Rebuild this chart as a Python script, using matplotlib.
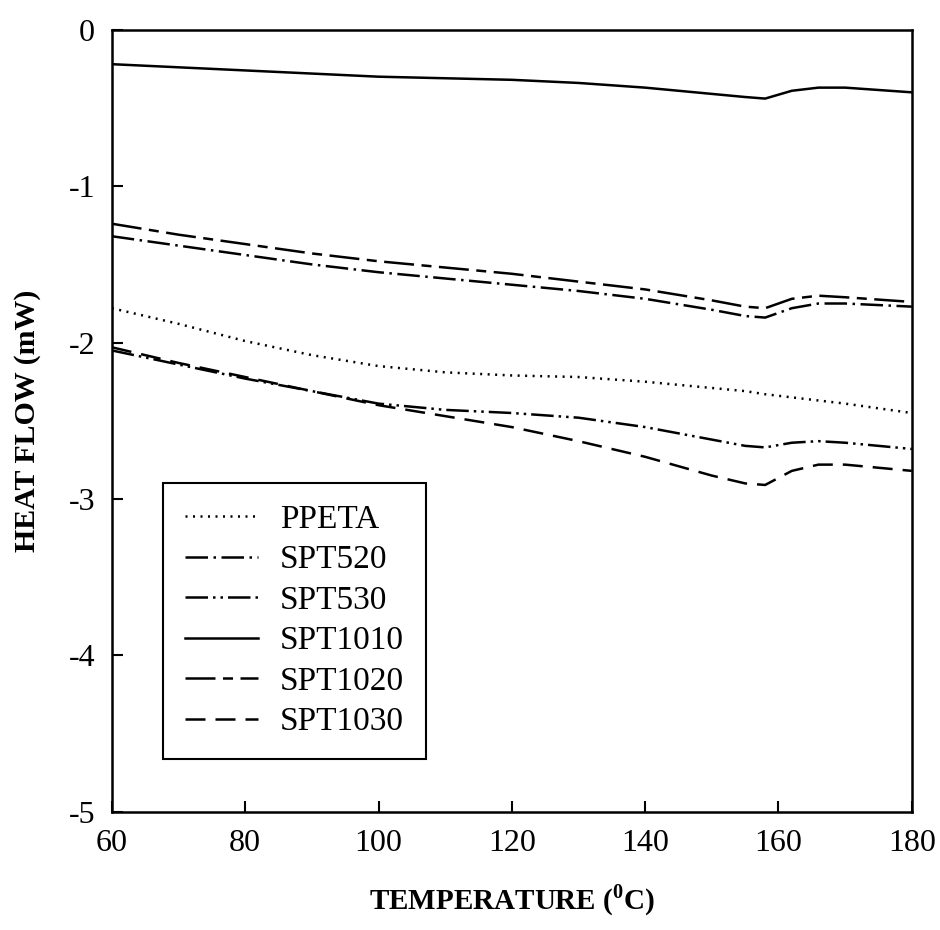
import matplotlib
matplotlib.use("Agg")
import matplotlib.pyplot as plt
import numpy as np

plt.rcParams['font.family'] = ['Liberation Serif', 'DejaVu Serif']
plt.rcParams['mathtext.fontset'] = 'custom'
plt.rcParams['mathtext.rm'] = 'Liberation Serif:bold'
plt.rcParams['axes.unicode_minus'] = False

# temperatures (C)
temp = [60, 70, 80, 90, 100, 110, 120, 130, 140, 150, 155, 158, 162, 166, 170, 180]

ppeta   = [-1.78, -1.88, -1.99, -2.08, -2.15, -2.19, -2.21, -2.22, -2.25, -2.29, -2.31, -2.33, -2.35, -2.37, -2.39, -2.45]
spt520  = [-1.32, -1.38, -1.44, -1.50, -1.55, -1.59, -1.63, -1.67, -1.72, -1.79, -1.83, -1.84, -1.78, -1.75, -1.75, -1.77]
spt530  = [-2.05, -2.14, -2.23, -2.31, -2.39, -2.43, -2.45, -2.48, -2.54, -2.62, -2.66, -2.67, -2.64, -2.63, -2.64, -2.68]
spt1010 = [-0.22, -0.24, -0.26, -0.28, -0.30, -0.31, -0.32, -0.34, -0.37, -0.41, -0.43, -0.44, -0.39, -0.37, -0.37, -0.40]
spt1020 = [-1.24, -1.31, -1.37, -1.43, -1.48, -1.52, -1.56, -1.61, -1.66, -1.73, -1.77, -1.78, -1.72, -1.70, -1.71, -1.74]
spt1030 = [-2.03, -2.13, -2.22, -2.31, -2.40, -2.47, -2.54, -2.63, -2.73, -2.85, -2.90, -2.91, -2.82, -2.78, -2.78, -2.82]

names = ['PPETA', 'SPT520', 'SPT530', 'SPT1010', 'SPT1020', 'SPT1030']
series = [ppeta, spt520, spt530, spt1010, spt1020, spt1030]
dashes = [(0.8, 2.2), (9, 2.2, 1, 2.2), (9, 2, 1, 2, 1, 2), (), (12, 3, 4, 3), (8, 4)]

fig = plt.figure(figsize=(9.4, 9.3), dpi=100)
ax = fig.add_axes([0.119, 0.127, 0.851, 0.841])

for name, vals, d in zip(names, series, dashes):
    ln, = ax.plot(temp, vals, color='black', lw=1.8, label=name)
    if d:
        ln.set_dashes(d)

ax.set_xlim(60, 180)
ax.set_ylim(-5, 0)
ax.set_xticks(np.arange(60, 181, 20))
ax.set_yticks(np.arange(-5, 0.1, 1))
ax.tick_params(direction='in', length=8, width=1.5, labelsize=23)
ax.tick_params(axis='y', pad=12)
ax.tick_params(axis='x', pad=12)
for s in ax.spines.values():
    s.set_linewidth(1.8)

ax.set_xlabel('TEMPERATURE ($^{0}$C)', fontsize=21, fontweight='bold', labelpad=18)
ax.set_ylabel('HEAT FLOW (mW)', fontsize=21.5, fontweight='bold', labelpad=20)

leg = ax.legend(loc='upper left', bbox_to_anchor=(0.064, 0.421), fontsize=24,
                handlelength=2.2, frameon=True, fancybox=False, borderpad=0.65,
                labelspacing=0.3, handletextpad=0.65, borderaxespad=0)
leg.get_frame().set_edgecolor('black')
leg.get_frame().set_linewidth(1.5)
leg.get_frame().set_alpha(None)

fig.savefig('out.png', dpi=100)
